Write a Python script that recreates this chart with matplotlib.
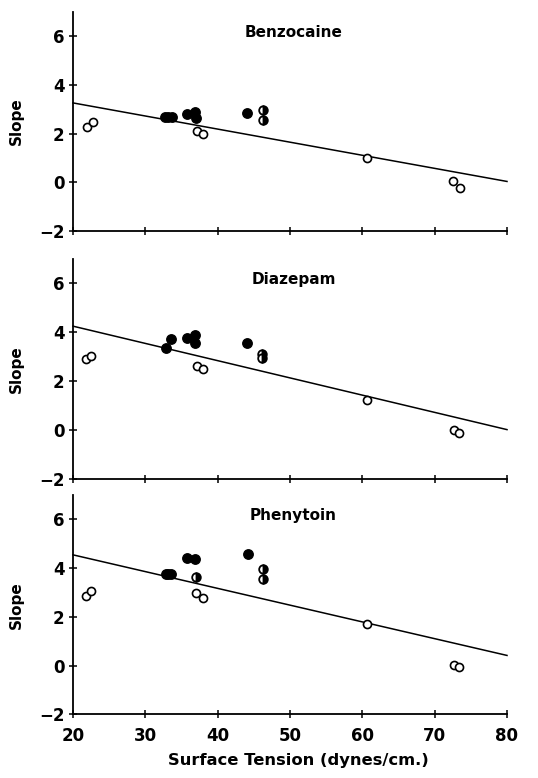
import numpy as np
import matplotlib
matplotlib.use("Agg")
import matplotlib.pyplot as plt

plt.rcParams["font.family"] = ["DejaVu Sans"]

drugs = ["Benzocaine", "Diazepam", "Phenytoin"]

# Benzocaine
benz_filled_x = [32.7, 33.2, 33.7, 35.8, 36.9, 37.0, 44.1]
benz_filled_y = [2.68, 2.68, 2.68, 2.82, 2.89, 2.64, 2.85]
benz_open_x = [22.0, 22.7, 37.1, 38.0, 60.7, 72.6, 73.5]
benz_open_y = [2.26, 2.47, 2.13, 2.00, 0.99, 0.06, -0.22]
benz_half_x = [46.3, 46.3]
benz_half_y = [2.99, 2.58]
benz_fit = (4.34, -0.0538)  # intercept, slope

# Diazepam
diaz_filled_x = [32.8, 33.6, 35.7, 36.8, 36.9, 44.0]
diaz_filled_y = [3.37, 3.73, 3.76, 3.87, 3.56, 3.55]
diaz_open_x = [21.85, 22.5, 37.2, 38.0, 60.7, 72.7, 73.4]
diaz_open_y = [2.90, 3.04, 2.60, 2.49, 1.21, -0.01, -0.14]
diaz_half_x = [46.1, 46.1]
diaz_half_y = [3.11, 2.93]
diaz_fit = (5.66, -0.0707)

# Phenytoin
phen_filled_x = [32.8, 33.2, 33.6, 35.7, 36.9, 44.2]
phen_filled_y = [3.76, 3.76, 3.76, 4.40, 4.37, 4.58]
phen_open_x = [21.85, 22.5, 37.0, 38.0, 60.6, 72.7, 73.4]
phen_open_y = [2.86, 3.07, 2.96, 2.76, 1.72, 0.04, -0.07]
phen_half_x = [37.0, 46.3, 46.2]
phen_half_y = [3.64, 3.96, 3.55]
phen_fit = (5.92, -0.0688)

x_ticks = [20, 30, 40, 50, 60, 70, 80]
y_ticks = [-2, 0, 2, 4, 6]

panels = [
    (benz_filled_x, benz_filled_y, benz_open_x, benz_open_y, benz_half_x, benz_half_y, benz_fit),
    (diaz_filled_x, diaz_filled_y, diaz_open_x, diaz_open_y, diaz_half_x, diaz_half_y, diaz_fit),
    (phen_filled_x, phen_filled_y, phen_open_x, phen_open_y, phen_half_x, phen_half_y, phen_fit),
]

fig = plt.figure(figsize=(5.38, 7.78), dpi=100)
W, H = 538.0, 778.0
left, right = 73 / W, 507 / W
# (top pixel, bottom pixel) of each axes box
boxes = [(12, 231), (259, 478.5), (495, 714.3)]

for i, (name, data, (ytop, ybot)) in enumerate(zip(drugs, panels, boxes)):
    fx, fy, ox, oy, hx, hy, (b0, b1) = data
    ax = fig.add_axes([left, 1 - ybot / H, right - left, (ybot - ytop) / H])
    ax.set_xlim(20, 80)
    ax.set_ylim(-2, 7)
    for s in ("top", "right"):
        ax.spines[s].set_visible(False)
    for s in ("left", "bottom"):
        ax.spines[s].set_linewidth(1.3)

    xl = np.array([20.0, 80.0])
    ax.plot(xl, b0 + b1 * xl, color="black", lw=1.1, zorder=2, clip_on=False)

    ax.plot(fx, fy, "o", ms=6.8, mfc="black", mec="black", mew=1.0, ls="none", zorder=3)
    ax.plot(ox, oy, "o", ms=5.8, mfc="white", mec="black", mew=1.2, ls="none", zorder=3)
    ax.plot(hx, hy, "o", ms=6.2, fillstyle="right", mfc="black", mfcalt="white",
            mec="black", mew=1.3, ls="none", zorder=3)

    ax.text(50.5, 6.15, name, ha="center", va="center", fontsize=11, fontweight="bold")

    ax.set_xticks(x_ticks)
    ax.set_yticks(y_ticks)
    ax.tick_params(direction="inout", length=6, width=1.1, labelsize=12, pad=3)
    for lab in ax.get_yticklabels():
        lab.set_fontweight("bold")
    ax.set_ylabel("Slope", fontsize=11, fontweight="bold", labelpad=11)

    if i < 2:
        ax.set_xticklabels([])
    else:
        for lab in ax.get_xticklabels():
            lab.set_fontweight("bold")
        ax.tick_params(axis="x", pad=6)
        ax.set_xlabel("Surface Tension (dynes/cm.)", fontsize=11.8, fontweight="bold",
                      labelpad=6, x=0.52)

fig.savefig("out.png", dpi=100, facecolor="white")
